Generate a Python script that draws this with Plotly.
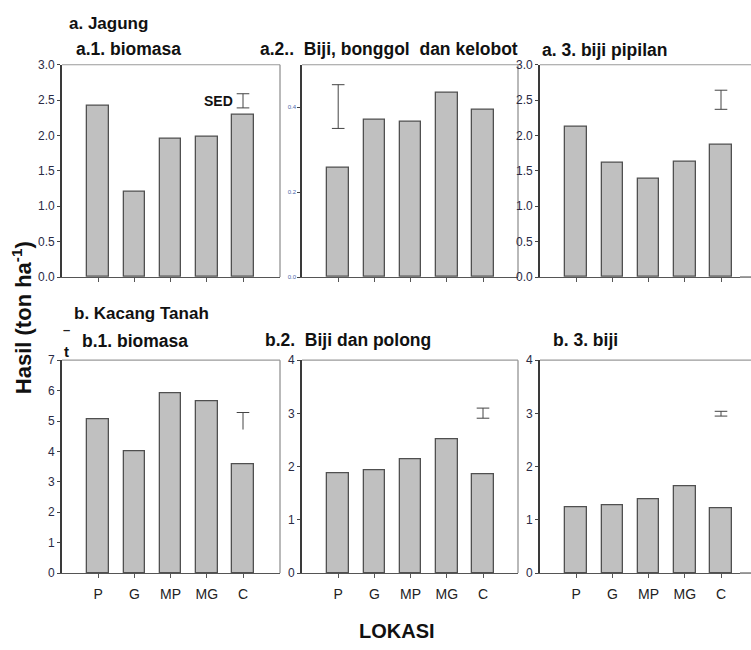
import plotly.graph_objects as go

W, H = 751, 650
FONT = "Liberation Sans, Arial, sans-serif"

# ---------------- data ----------------
locations = ["P", "G", "MP", "MG", "C"]

jagung_biomasa = [2.42, 1.21, 1.95, 1.98, 2.29]
jagung_biji_bonggol_kelobot = [0.258, 0.371, 0.365, 0.433, 0.395]
jagung_biji_pipilan = [2.12, 1.62, 1.39, 1.63, 1.87]
kacang_biomasa = [5.06, 4.01, 5.93, 5.66, 3.59]
kacang_biji_polong = [1.88, 1.94, 2.13, 2.51, 1.85]
kacang_biji = [1.24, 1.28, 1.39, 1.64, 1.21]

# SED bars: location where drawn, low, high, caps shown (top, bottom)
sed_location = ["C", "P", "C", "C", "C", "C"]
sed_low = [2.39, 0.350, 2.37, 4.72, 2.91, 2.95]
sed_high = [2.59, 0.453, 2.64, 5.28, 3.10, 3.04]
sed_caps = [(True, True), (True, True), (True, True), (True, False), (True, True), (True, True)]

panel_values = [jagung_biomasa, jagung_biji_bonggol_kelobot, jagung_biji_pipilan,
                kacang_biomasa, kacang_biji_polong, kacang_biji]
panel_titles = ["a.1. biomasa", "a.2..\u00a0 Biji, bonggol\u00a0 dan kelobot", "a. 3. biji pipilan",
                "b.1. biomasa", "b.2.\u00a0 Biji dan polong", "b. 3. biji"]
y_ranges = [[0, 3], [0, 0.5], [0, 3], [0, 7], [0, 4], [0, 4]]
y_ticks = [[0, 0.5, 1.0, 1.5, 2.0, 2.5, 3.0], [0, 0.2, 0.4], [0, 0.5, 1.0, 1.5, 2.0, 2.5, 3.0],
           [0, 1, 2, 3, 4, 5, 6, 7], [0, 1, 2, 3, 4], [0, 1, 2, 3, 4]]
y_tickfmt = [".1f", ".1f", ".1f", "d", "d", "d"]

# ---------------- layout geometry (pixels) ----------------
def px_x(p):
    return p / W

def px_y(p):
    return 1 - p / H

col_px = [(62, 280), (302, 518), (540, 740)]
row_px = [(59, 276), (361, 578.5)]
unit_px = 36.2

fig = go.Figure()
layout = dict(
    width=W, height=H, margin=dict(l=0, r=0, t=0, b=0),
    paper_bgcolor="white", plot_bgcolor="white", showlegend=False,
    font=dict(family=FONT, color="#222"),
    bargap=0,
)
shapes = []
annotations = []

for k in range(6):
    r, c = divmod(k, 3)
    idx = "" if k == 0 else str(k + 1)
    xa, ya = "x" + idx, "y" + idx
    x0, x1 = col_px[c]
    ytop, ybot = row_px[r]
    xmax = -1 + (x1 - x0) / unit_px
    xs = list(range(len(locations)))

    fig.add_trace(go.Bar(
        x=xs, y=panel_values[k], width=0.6, xaxis=xa, yaxis=ya,
        marker=dict(color="#c0c0c0", line=dict(color="#505050", width=1.3)),
        hoverinfo="skip",
    ))

    # SED bar
    si = locations.index(sed_location[k])
    fig.add_trace(go.Scatter(
        x=[si, si], y=[sed_low[k], sed_high[k]], mode="lines", xaxis=xa, yaxis=ya,
        line=dict(color="#444", width=1), hoverinfo="skip",
    ))
    cap_y = []
    if sed_caps[k][0]:
        cap_y.append(sed_high[k])
    if sed_caps[k][1]:
        cap_y.append(sed_low[k])
    fig.add_trace(go.Scatter(
        x=[si] * len(cap_y), y=cap_y, mode="markers", xaxis=xa, yaxis=ya,
        marker=dict(symbol="line-ew", size=9, line=dict(color="#444", width=1)),
        hoverinfo="skip",
    ))

    small = (k == 1)
    layout["xaxis" + idx] = dict(
        domain=[px_x(x0), px_x(x1)], anchor=ya, range=[-1, xmax],
        tickvals=xs, ticktext=locations, showticklabels=(r == 1),
        ticks="outside", ticklen=4, tickcolor="#555", tickwidth=1, ticklabelstandoff=4,
        showline=True, linecolor="#555", linewidth=1.2, showgrid=False, zeroline=False,
        tickfont=dict(size=14, color="#222", family=FONT),
    )
    layout["yaxis" + idx] = dict(
        domain=[px_y(ybot), px_y(ytop)], anchor=xa, range=y_ranges[k],
        tickvals=y_ticks[k], tickformat=y_tickfmt[k],
        ticks="outside", ticklen=3, tickcolor="#444", tickwidth=1,
        showline=True, linecolor="#3a3a3a", linewidth=1.6, showgrid=False, zeroline=False,
        tickfont=dict(size=6 if small else 12, color="#4a64a8" if small else "#2a2a44", family=FONT),
    )
    if c < 2:
        # light frame: top and right
        shapes.append(dict(type="line", xref=xa + " domain", yref=ya + " domain",
                           x0=0, x1=1, y0=1, y1=1, layer="below",
                           line=dict(color="#9a9a9a", width=1.2)))
        shapes.append(dict(type="line", xref=xa + " domain", yref=ya + " domain",
                           x0=1, x1=1, y0=0, y1=1, layer="below",
                           line=dict(color="#8a8a8a", width=1.2)))
    else:
        # last column is cut by the picture edge: top and bottom lines run off the edge
        shapes.append(dict(type="line", xref="paper", yref=ya + " domain",
                           x0=px_x(x0), x1=1.0, y0=1, y1=1, layer="below",
                           line=dict(color="#9a9a9a", width=1.2)))
        shapes.append(dict(type="line", xref="paper", yref=ya + " domain",
                           x0=px_x(x1), x1=1.0, y0=0, y1=0, layer="below",
                           line=dict(color="#555", width=1.2)))

    # panel titles
    tx = [74, 258, 540, 80, 263, 551][k]
    ty = [43, 43, 44, 341, 340, 340][k]
    annotations.append(dict(text="<b>" + panel_titles[k] + "</b>", x=px_x(tx), y=px_y(ty),
                            xref="paper", yref="paper", xanchor="left", yanchor="middle",
                            showarrow=False, font=dict(size=17.5, color="#111", family=FONT)))

# group titles
annotations.append(dict(text="<b>a. Jagung</b>", x=px_x(67), y=px_y(17), xref="paper", yref="paper",
                        xanchor="left", yanchor="middle", showarrow=False,
                        font=dict(size=17, color="#111", family=FONT)))
annotations.append(dict(text="<b>b. Kacang Tanah</b>", x=px_x(72), y=px_y(313), xref="paper", yref="paper",
                        xanchor="left", yanchor="middle", showarrow=False,
                        font=dict(size=17, color="#111", family=FONT)))
# SED label
annotations.append(dict(text="<b>SED</b>", x=px_x(202), y=px_y(96), xref="paper", yref="paper",
                        xanchor="left", yanchor="middle", showarrow=False,
                        font=dict(size=14, color="#111", family=FONT)))
# small stray marks in the original
annotations.append(dict(text="<b>\u2013</b>", x=px_x(66), y=px_y(330), xref="paper", yref="paper",
                        xanchor="center", yanchor="middle", showarrow=False,
                        font=dict(size=13, color="#222", family=FONT)))
annotations.append(dict(text="<b>t</b>", x=px_x(66), y=px_y(352), xref="paper", yref="paper",
                        xanchor="center", yanchor="middle", showarrow=False,
                        font=dict(size=15, color="#111", family=FONT)))
# axis titles
annotations.append(dict(text="<b>Hasil (ton ha<sup>-1</sup>)</b>", x=px_x(22), y=px_y(318),
                        xref="paper", yref="paper", xanchor="center", yanchor="middle",
                        textangle=-90, showarrow=False, font=dict(size=22, color="#111", family=FONT)))
annotations.append(dict(text="<b>LOKASI</b>", x=px_x(397), y=px_y(638), xref="paper", yref="paper",
                        xanchor="center", yanchor="middle", showarrow=False,
                        font=dict(size=20, color="#111", family=FONT)))

layout["shapes"] = shapes
layout["annotations"] = annotations
fig.update_layout(**layout)
fig.write_html("out.html", config={"displayModeBar": False},
               post_script="document.body.style.margin='0px';")
